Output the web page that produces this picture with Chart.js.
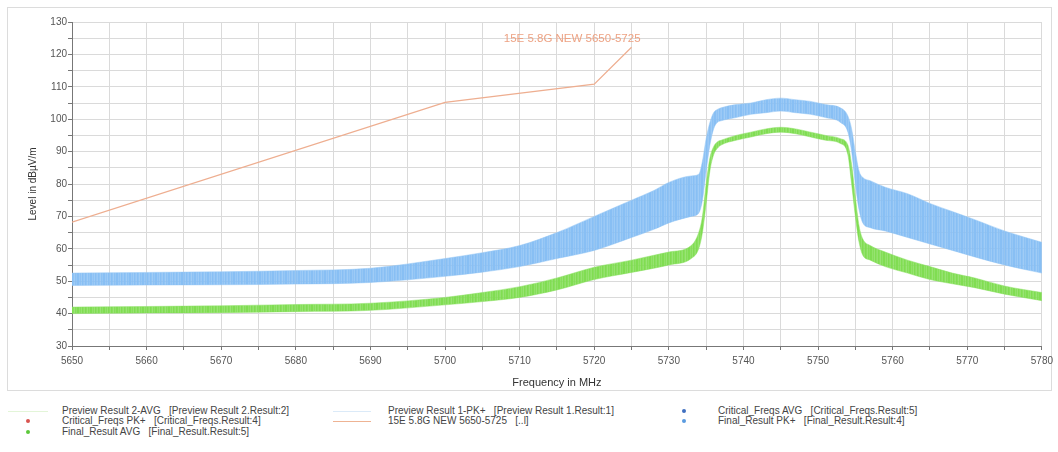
<!DOCTYPE html>
<html>
<head>
<meta charset="utf-8">
<script src="https://cdn.jsdelivr.net/npm/chart.js@4/dist/chart.umd.min.js"></script>
<style>
  body { margin: 0; background: #fff; width: 1058px; height: 452px; overflow: hidden; font-family: "Liberation Sans", Arial, sans-serif; }
  #frame { position: absolute; left: 7px; top: 7px; width: 1043px; height: 382px; border: 1px solid #dcdcdc; }
  #chart { position: absolute; left: 0; top: 0; }
  .lg { position: absolute; font-size: 10px; color: #444; white-space: pre; line-height: 10px; }
  .sw { position: absolute; height: 1px; }
  .dot { position: absolute; width: 4px; height: 4px; border-radius: 2px; }
</style>
</head>
<body>
<div id="frame"></div>
<canvas id="chart" width="1058" height="395"></canvas>

<div class="sw" style="left:8px;top:411px;width:40px;background:#e3f5d8"></div>
<div class="lg" style="left:62px;top:406px">Preview Result 2-AVG   [Preview Result 2.Result:2]</div>
<div class="dot" style="left:26px;top:419px;background:#d9534f"></div>
<div class="lg" style="left:62px;top:416px">Critical_Freqs PK+   [Critical_Freqs.Result:4]</div>
<div class="dot" style="left:26px;top:430px;background:#5cc83a"></div>
<div class="lg" style="left:62px;top:427px">Final_Result AVG   [Final_Result.Result:5]</div>

<div class="sw" style="left:333px;top:411px;width:38px;background:#dbeaf8"></div>
<div class="lg" style="left:388px;top:406px">Preview Result 1-PK+   [Preview Result 1.Result:1]</div>
<div class="sw" style="left:333px;top:421px;width:38px;background:#eeb393"></div>
<div class="lg" style="left:388px;top:416px">15E 5.8G NEW 5650-5725   [..l]</div>

<div class="dot" style="left:682px;top:409px;background:#3f6fc0"></div>
<div class="lg" style="left:718px;top:406px">Critical_Freqs AVG   [Critical_Freqs.Result:5]</div>
<div class="dot" style="left:682px;top:419px;background:#5a9be0"></div>
<div class="lg" style="left:718px;top:416px">Final_Result PK+   [Final_Result.Result:4]</div>

<script>
// frequency grid of the points (MHz)
const freqs = [5650, 5660, 5670, 5680, 5690, 5700, 5705, 5710, 5715, 5720, 5725, 5728, 5730, 5733, 5734,
  5734.5, 5735, 5735.5, 5736, 5736.5, 5737, 5739, 5741, 5743, 5745, 5747, 5749, 5751, 5753, 5754,
  5754.5, 5755, 5755.5, 5756, 5757, 5759, 5762, 5765, 5768, 5771, 5775, 5780];

// Preview Result 1-PK+ : upper / lower edge of the noise band (dBuV/m)
const pkHigh = [52.5, 52.7, 52.9, 53.3, 54, 57, 58.8, 61, 65, 70, 75, 78, 80.5, 82.5, 83,
  87, 94, 99, 102, 103, 103.5, 104.5, 105, 106, 106.5, 106, 105.5, 104.5, 103.5, 101,
  97, 90, 84, 82, 81, 79, 77, 74, 71.5, 69, 65.5, 62];
const pkLow = [48.7, 48.8, 48.9, 49.1, 49.6, 51.5, 52.8, 54.5, 57, 59.5, 63.5, 66, 68, 70, 71,
  75, 84, 92, 97, 99, 99.5, 100.5, 101.5, 102, 102.5, 102, 101.5, 100.5, 99, 96,
  90, 80, 72, 68, 66.5, 65.5, 63.5, 61.5, 59.5, 57.5, 55, 52.5];

// Preview Result 2-AVG : upper / lower edge
const avgHigh = [42, 42.2, 42.4, 42.8, 43.2, 45, 46.5, 48.3, 51, 54.3, 56.5, 58, 59, 61, 65,
  70, 80, 88, 91.5, 93, 93.5, 95, 96, 97, 97.5, 97, 96, 95, 94, 92,
  86, 76, 67, 63, 61, 59, 56.5, 54.5, 52.5, 51, 48.5, 46.5];
const avgLow = [40, 40.2, 40.3, 40.6, 41, 42.7, 43.7, 45, 47.3, 50.5, 52.7, 54, 55, 57, 60,
  65, 74, 84, 89, 91, 92, 93.5, 94.5, 95.5, 96, 95.5, 94.5, 93.5, 92.5, 89,
  80, 70, 62, 58, 56.5, 54.5, 52.5, 50.5, 49.2, 48, 46, 44];

// 15E 5.8G NEW 5650-5725 limit line
const limitFreqs = [5650, 5700, 5720, 5725];
const limitLevels = [68.2, 105.2, 110.8, 122.2];
const limitName = '15E 5.8G NEW 5650-5725';

function pts(xs, ys) {
  return xs.map((x, i) => ({ x: x, y: ys[i] }));
}

// faint streaks so the bands read a bit like dense spectrum noise
function streaks(rgb) {
  const alphas = [1, 0.86, 0.95, 0.82, 1, 0.9, 0.84, 1, 0.93, 0.8, 0.97, 0.88, 1];
  const c = document.createElement('canvas');
  c.width = alphas.length;
  c.height = 1;
  const g = c.getContext('2d');
  alphas.forEach((a, i) => {
    g.fillStyle = `rgba(${rgb},${a})`;
    g.fillRect(i, 0, 1, 1);
  });
  return g.createPattern(c, 'repeat');
}

const annotations = {
  id: 'annotations',
  afterDraw(chart) {
    const ctx = chart.ctx;
    const area = chart.chartArea;
    const x = chart.scales.x;
    const y = chart.scales.y;
    ctx.save();
    ctx.fillStyle = '#333';
    ctx.font = '11px "Liberation Sans", Arial, sans-serif';
    ctx.textAlign = 'center';
    ctx.textBaseline = 'middle';
    ctx.fillText('Frequency in MHz', (area.left + area.right) / 2, 383);
    ctx.translate(33, (area.top + area.bottom) / 2);
    ctx.rotate(-Math.PI / 2);
    ctx.font = '10px "Liberation Sans", Arial, sans-serif';
    ctx.fillText('Level in dBµV/m', 0, 0);
    ctx.restore();

    ctx.save();
    ctx.fillStyle = '#eda283';
    ctx.font = '11.5px "Liberation Sans", Arial, sans-serif';
    ctx.textAlign = 'right';
    ctx.textBaseline = 'middle';
    const last = limitFreqs.length - 1;
    ctx.fillText(limitName, x.getPixelForValue(limitFreqs[last]) + 9, y.getPixelForValue(limitLevels[last]) - 8);
    ctx.restore();
  }
};

const band = { pointRadius: 0, borderWidth: 1, cubicInterpolationMode: 'monotone' };

new Chart(document.getElementById('chart'), {
  type: 'line',
  data: {
    datasets: [
      { ...band, data: pts(freqs, pkHigh), borderColor: 'rgba(150,200,246,0.5)', backgroundColor: streaks('136,191,244'), fill: '+1' },
      { ...band, data: pts(freqs, pkLow), borderColor: 'rgba(150,200,246,0.5)', fill: false },
      { ...band, data: pts(freqs, avgHigh), borderColor: 'rgba(140,225,100,0.5)', backgroundColor: streaks('128,221,82'), fill: '+1' },
      { ...band, data: pts(freqs, avgLow), borderColor: 'rgba(140,225,100,0.5)', fill: false },
      { data: pts(limitFreqs, limitLevels), borderColor: '#eeae90', borderWidth: 1.2, fill: false, pointRadius: 0, tension: 0 }
    ]
  },
  options: {
    responsive: false,
    animation: false,
    events: [],
    layout: { padding: { top: 22, right: 16, left: 0, bottom: 0 } },
    plugins: { legend: { display: false }, tooltip: { enabled: false } },
    scales: {
      x: {
        type: 'linear', min: 5650, max: 5780,
        afterFit: (s) => { s.height = 49; },
        ticks: {
          stepSize: 5, autoSkip: false, maxRotation: 0, padding: 5,
          color: '#555', font: { size: 10, family: '"Liberation Sans", Arial, sans-serif' },
          callback: (v) => (v % 10 === 0 ? String(v) : '')
        },
        grid: { color: '#dadada', tickColor: '#777', tickLength: 4, lineWidth: 1 },
        border: { color: '#777', width: 1 }
      },
      y: {
        min: 30, max: 130,
        afterFit: (s) => { s.width = 72; },
        ticks: {
          stepSize: 5, autoSkip: false, padding: 1,
          color: '#555', font: { size: 10, family: '"Liberation Sans", Arial, sans-serif' },
          callback: (v) => (v % 10 === 0 ? String(v) : '')
        },
        grid: { color: '#dadada', tickColor: '#777', tickLength: 4, lineWidth: 1 },
        border: { color: '#777', width: 1 }
      }
    }
  },
  plugins: [annotations]
});
</script>
</body>
</html>
